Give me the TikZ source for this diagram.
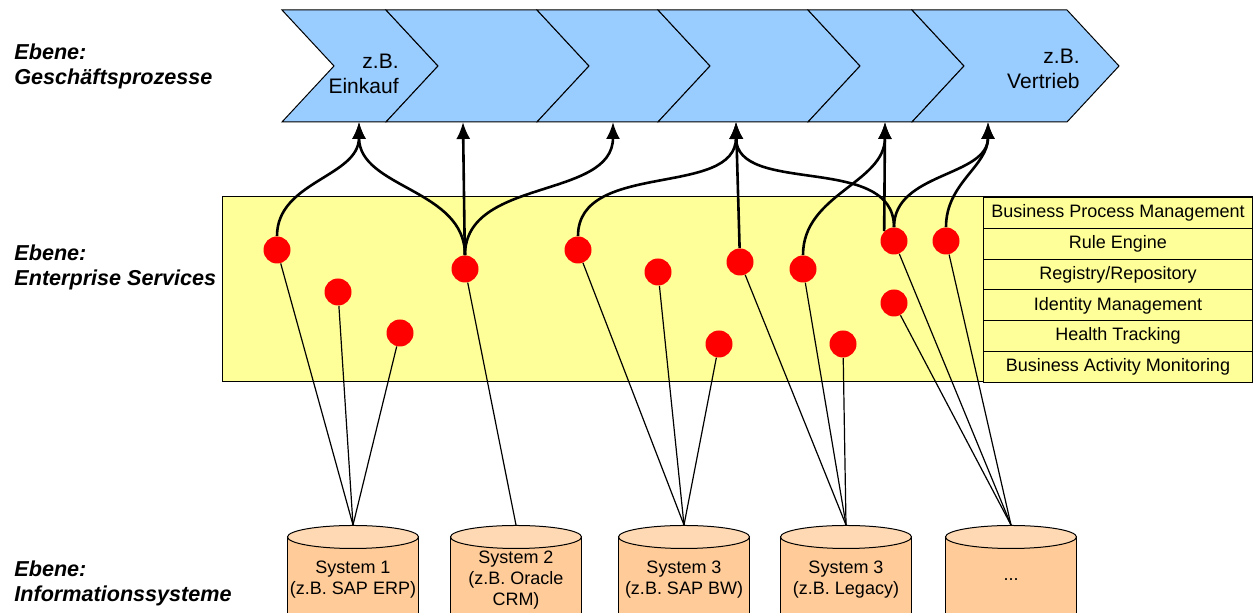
\documentclass[tikz,border=0pt]{standalone}
\usepackage{fontspec}
\setmainfont{Liberation Sans}
\usetikzlibrary{arrows.meta}
\definecolor{prozessblau}{HTML}{99CCFF}
\definecolor{dienstgelb}{HTML}{FFFF99}
\definecolor{systemorange}{HTML}{FFCC99}
\definecolor{systemdeckel}{HTML}{FFD9B3}
\tikzset{
  ebene/.style={anchor=west,align=left,inner sep=0pt,font=\fontsize{10.8}{12.5}\selectfont\bfseries\itshape},
  prozesstext/.style={anchor=east,align=right,inner sep=0pt,font=\fontsize{10.5}{12.5}\selectfont},
  dienst/.style={circle,fill=red,minimum size=13.5pt,inner sep=0pt},
  werkzeug/.style={draw,fill=dienstgelb,line width=0.5pt,minimum width=134.5pt,minimum height=15.4pt,inner sep=0pt,font=\fontsize{9}{10}\selectfont},
  systemtext/.style={align=center,font=\fontsize{9}{10.5}\selectfont},
  aufruf/.style={line width=1.3pt,-{Latex[length=8.5pt,width=7pt]}},
  anbindung/.style={line width=0.6pt}
}
\begin{document}
\begin{tikzpicture}[x=0.5pt,y=0.5pt]
  \clip (0,0) rectangle (1253,613);
  % Ebene: Geschaeftsprozesse
  \foreach \b/\f in {282/386,386/537,537/658,658/808,808/912,912/1067}
    \filldraw[fill=prozessblau,line width=0.5pt] (\b,603) -- (\f,603) -- (\f+52,547) -- (\f,491) -- (\b,491) -- (\b+52,547) -- cycle;
  \node[prozesstext] (einkauf) at (399,539) {z.B.\\Einkauf};
  \node[prozesstext] (vertrieb) at (1080,544) {z.B.\\Vertrieb};
  \foreach \x [count=\i] in {359,463,613,736,885,988}
    \coordinate (t\i) at (\x,491);

  % Ebene: Enterprise Services
  \filldraw[fill=dienstgelb,line width=0.5pt] (222,231) rectangle (1252,416);
  \foreach \t [count=\i] in {Business Process Management,Rule Engine,Registry/Repository,Identity Management,Health Tracking,Business Activity Monitoring}
    \node[werkzeug,anchor=north west] (r\i) at (983,{416-(\i-1)*30.83}) {\t};

  % Ebene: Informationssysteme
  \foreach \x [count=\i] in {353,516,684,846,1011} {
    \filldraw[fill=systemorange,line width=0.5pt] (\x-65.5,-30) -- (\x-65.5,76) -- (\x+65.5,76) -- (\x+65.5,-30);
    \filldraw[fill=systemdeckel,line width=0.5pt] (\x,76) ellipse [x radius=65.5,y radius=11.5];
    \coordinate (s\i) at (\x,88);
  }
  \node[systemtext] (sys1) at (353,33) {System 1\\(z.B. SAP ERP)};
  \node[systemtext] (sys2) at (516,33) {System 2\\(z.B. Oracle\\CRM)};
  \node[systemtext] (sys3) at (684,33) {System 3\\(z.B. SAP BW)};
  \node[systemtext] (sys4) at (846,33) {System 3\\(z.B. Legacy)};
  \node[systemtext] (sys5) at (1011,33) {...};

  \foreach \n/\x/\y in {1/277/363,2/338/321,3/400/280,4/465/344,5/578/363,6/658/341,7/740/351,8/803/344,9/894/372,10/946/372,11/719/269,12/843/269,13/894/310}
    \node[dienst] (d\n) at (\x,\y) {};

  \node[ebene] (ebene1) at (14,547) {Ebene:\\Gesch\"aftsprozesse};
  \node[ebene] (ebene2) at (14,346) {Ebene:\\Enterprise Services};
  \node[ebene] (ebene3) at (14,30) {Ebene:\\Informationssysteme};

  % Anbindung der Systeme
  \foreach \d/\s in {1/1,2/1,3/1,4/2,5/3,6/3,11/3,7/4,8/4,12/4,9/5,10/5,13/5}
    \draw[anbindung] (d\d) -- (s\s);

  % Aufrufe aus den Prozessen
  \draw[aufruf] (d1) to[out=90,in=-90] (t1);
  \draw[aufruf] (d4) to[out=90,in=-90] (t1);
  \draw[aufruf] (d4) -- (t2);
  \draw[aufruf] (d4) to[out=90,in=-90] (t3);
  \draw[aufruf] (d5) to[out=90,in=-90] (t4);
  \draw[aufruf] (d7) -- (t4);
  \draw[aufruf] (d9) to[out=90,in=-90] (t4);
  \draw[aufruf] (d8) to[out=90,in=-90] (t5);
  \draw[aufruf] (d9.north west) -- (t5);
  \draw[aufruf] (d9) to[out=90,in=-90] (t6);
  \draw[aufruf] (d10) to[out=90,in=-90] (t6);
\end{tikzpicture}
\end{document}
